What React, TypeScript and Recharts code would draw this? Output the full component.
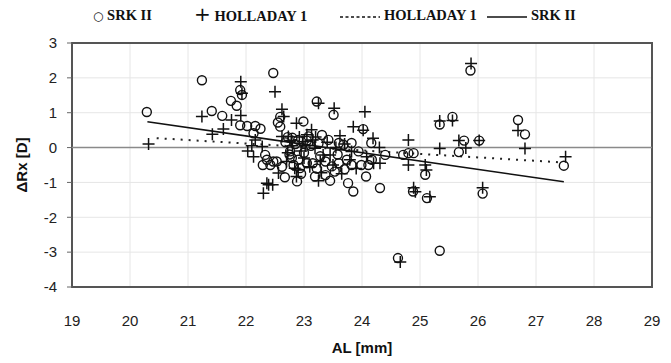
import React from "react";
import {
  ComposedChart,
  Scatter,
  XAxis,
  YAxis,
  CartesianGrid,
  ReferenceLine,
  ReferenceArea,
} from "recharts";

// axial length (mm) vs refractive error difference (D), one pair per eye
const srkPoints: Array<[number, number]> = [
  [20.29, 1.02], [21.24, 1.93], [21.41, 1.05], [21.59, 0.91], [21.74, 1.34],
  [21.84, 1.2], [21.9, 1.65], [21.93, 1.51], [21.9, 0.64], [22.02, 0.62],
  [22.16, 0.62], [22.25, 0.54], [22.13, 0.41], [22.47, 2.14], [22.55, 0.72],
  [22.59, 0.6], [22.59, 0.88], [22.33, -0.21], [22.36, -0.35], [22.29, -0.5],
  [22.47, -0.4], [22.53, -0.4], [22.42, -0.5], [22.67, -0.85], [22.88, -0.97],
  [22.76, -0.11], [22.79, -0.3], [22.9, -0.35], [22.82, -0.5], [22.93, -0.59],
  [22.99, 0.75], [23.22, 1.32], [23.51, 0.94], [23.31, 0.36], [23.42, 0.22],
  [23.6, 0.13], [23.68, 0.08], [23.82, 0.13], [23.28, -0.25], [23.37, -0.4],
  [23.48, -0.54], [23.53, -0.69], [23.37, -0.79], [23.19, -0.83], [23.74, -0.35],
  [23.82, -0.5], [23.99, -0.5], [24.17, -0.35], [24.11, -0.5], [23.94, -0.11],
  [24.07, -0.83], [24.31, -1.16], [23.76, -1.02], [23.85, -1.26], [24.02, 0.53],
  [24.16, 0.13], [24.4, -0.21], [24.71, -0.21], [24.8, -0.16], [24.89, -0.16],
  [24.88, -1.26], [25.09, -0.78], [25.12, -1.45], [24.62, -3.17], [25.34, -2.96],
  [25.34, 0.66], [25.56, 0.88], [25.76, 0.2], [25.67, -0.13], [26.02, 0.2],
  [25.87, 2.21], [26.69, 0.79], [26.81, 0.38], [27.48, -0.52], [26.08, -1.32],
  [23.05, 0.2], [22.72, 0.3], [22.85, 0.1], [23.12, 0.05], [23.0, -0.15],
  [23.15, -0.45], [22.95, -0.75], [23.6, -0.45], [23.45, -0.95], [22.68, 0.15],
  [22.8, 0.28], [22.9, 0.22], [23.08, 0.32], [23.25, 0.12], [22.75, -0.2],
  [23.05, -0.45], [23.22, -0.6], [23.58, -0.2], [22.62, -0.55], [23.7, -0.62],
];

const holladayPoints: Array<[number, number]> = [
  [20.32, 0.1], [21.24, 0.89], [21.42, 0.38], [21.61, 0.53], [21.75, 0.79],
  [21.91, 0.92], [21.91, 1.89], [21.93, 1.56], [22.5, 1.6], [22.62, 1.1],
  [22.65, 0.89], [22.62, 0.32], [22.73, 0.32], [22.16, 0.22], [22.03, -0.1],
  [22.13, -0.26], [22.28, 0.03], [22.36, -1.02], [22.46, -1.07], [22.3, -1.31],
  [22.39, -1.07], [22.56, -0.73], [22.7, -0.4], [22.84, -0.59], [22.9, -0.64],
  [22.87, -0.83], [22.87, 0.7], [23.25, 1.27], [23.52, 1.13], [24.05, 1.03],
  [23.85, 0.6], [24.02, 0.5], [24.19, 0.27], [23.05, 0.37], [23.13, 0.51],
  [23.62, 0.34], [22.98, 0.17], [23.19, -0.02], [23.33, -0.21], [23.45, -0.21],
  [23.79, -0.35], [23.82, -0.11], [24.08, -0.26], [24.2, -0.45], [24.31, -0.45],
  [24.8, 0.22], [24.8, -0.5], [25.09, -0.5], [25.88, 2.41], [25.34, 0.76],
  [25.56, 0.78], [25.67, 0.2], [25.79, -0.01], [25.34, -0.03], [25.11, -0.64],
  [24.92, -1.27], [25.17, -1.41], [26.08, -1.15], [26.69, 0.49], [26.81, -0.03],
  [27.51, -0.26], [26.02, 0.2], [24.66, -3.28], [24.89, -1.15], [23.2, 0.3],
  [23.4, 0.15], [22.8, 0.05], [23.0, -0.3], [23.1, -0.55], [23.5, -0.5],
  [23.65, -0.75], [23.25, -0.95], [22.95, -0.1], [23.55, 0.0], [24.3, 0.0],
  [22.1, 0.05], [23.9, -0.6], [23.3, -0.72], [22.78, 0.2], [22.92, 0.3],
  [23.02, 0.05], [23.28, -0.4], [23.15, 0.22], [23.7, 0.1], [22.72, -0.15],
];

// regression line end points
const srkFit: Array<[number, number]> = [[20.3, 0.74], [27.48, -0.98]];
const holladayFit: Array<[number, number]> = [[20.46, 0.27], [27.39, -0.42]];

const xTicks = [19, 20, 21, 22, 23, 24, 25, 26, 27, 28, 29];
const yTicks = [-4, -3, -2, -1, 0, 1, 2, 3];

const toRows = (pts: Array<[number, number]>) =>
  pts.map(([al, rx]) => ({ al, rx }));

const CircleMark = (props: any) => {
  const { cx, cy } = props;
  return (
    <circle cx={cx} cy={cy} r={4.5} fill="none" stroke="#111" strokeWidth={1.4} />
  );
};

const PlusMark = (props: any) => {
  const { cx, cy } = props;
  const a = 6;
  return (
    <path
      d={`M${cx - a},${cy}L${cx + a},${cy}M${cx},${cy - a}L${cx},${cy + a}`}
      stroke="#111"
      strokeWidth={1.5}
      fill="none"
    />
  );
};

const legendText: React.CSSProperties = {
  position: "absolute",
  top: 7,
  fontFamily: "'Liberation Serif', 'Times New Roman', serif",
  fontWeight: "bold",
  fontSize: 14.5,
  color: "#111",
  whiteSpace: "nowrap",
  lineHeight: "16px",
};

const LegendStroke = ({ dash }: { dash?: string }) => (
  <svg width={40} height={6} style={{ verticalAlign: "middle", marginRight: 4 }}>
    <line x1={0} y1={3} x2={40} y2={3} stroke="#111" strokeWidth={1.5} strokeDasharray={dash} />
  </svg>
);

export default function App() {
  return (
    <div style={{ position: "absolute", left: 0, top: 0, width: 671, height: 363, background: "#fff" }}>
      <div style={{ ...legendText, left: 93 }}>
        <span style={{ fontWeight: "normal", fontFamily: "'DejaVu Sans', sans-serif", fontSize: 12 }}>○</span> SRK II
      </div>
      <div style={{ ...legendText, left: 194 }}>
        <span style={{ fontWeight: "normal", fontFamily: "'DejaVu Sans', sans-serif", fontSize: 20, lineHeight: "14px" }}>+</span> HOLLADAY 1
      </div>
      <div style={{ ...legendText, left: 340 }}>
        <LegendStroke dash="3 2.5" />
        HOLLADAY 1
      </div>
      <div style={{ ...legendText, left: 487 }}>
        <LegendStroke />
        SRK II
      </div>

      <ComposedChart
        width={671}
        height={363}
        margin={{ top: 43, right: 19, bottom: 0, left: 0 }}
      >
        <CartesianGrid stroke="#e6e6e6" strokeWidth={1} />
        <XAxis
          type="number"
          dataKey="al"
          domain={[19, 29]}
          ticks={xTicks}
          interval={0}
          axisLine={false}
          tickLine={false}
          tickMargin={22}
          height={76}
          tick={{ fill: "#222", fontSize: 15, fontFamily: "'Liberation Sans', Arial, sans-serif" }}
          label={{
            value: "AL [mm]",
            position: "insideBottom",
            offset: 10,
            fill: "#111",
            fontSize: 15,
            fontWeight: "bold",
            fontFamily: "'Liberation Sans', Arial, sans-serif",
          }}
        />
        <YAxis
          type="number"
          dataKey="rx"
          domain={[-4, 3]}
          ticks={yTicks}
          interval={0}
          axisLine={false}
          tickLine={{ stroke: "#666" }}
          tickSize={5}
          tickMargin={10}
          width={72}
          tick={{ fill: "#222", fontSize: 15, fontFamily: "'Liberation Sans', Arial, sans-serif" }}
          label={{
            value: "ΔRx [D]",
            angle: -90,
            position: "insideLeft",
            offset: 22,
            style: { textAnchor: "middle" },
            fill: "#111",
            fontSize: 15,
            fontWeight: "bold",
            fontFamily: "'Liberation Sans', Arial, sans-serif",
          }}
        />
        <ReferenceLine y={0} stroke="#8a8a8a" strokeWidth={1.5} />
        <ReferenceArea x1={19} x2={29} y1={-4} y2={3} fill="none" stroke="#555" strokeWidth={2} />
        <Scatter
          name="SRK II"
          data={toRows(srkPoints)}
          shape={CircleMark}
          isAnimationActive={false}
        />
        <Scatter
          name="HOLLADAY 1"
          data={toRows(holladayPoints)}
          shape={PlusMark}
          isAnimationActive={false}
        />
        <ReferenceLine
          segment={holladayFit.map(([x, y]) => ({ x, y }))}
          stroke="#222"
          strokeWidth={2}
          strokeDasharray="2 6"
        />
        <ReferenceLine
          segment={srkFit.map(([x, y]) => ({ x, y }))}
          stroke="#111"
          strokeWidth={1.6}
        />
      </ComposedChart>
    </div>
  );
}
